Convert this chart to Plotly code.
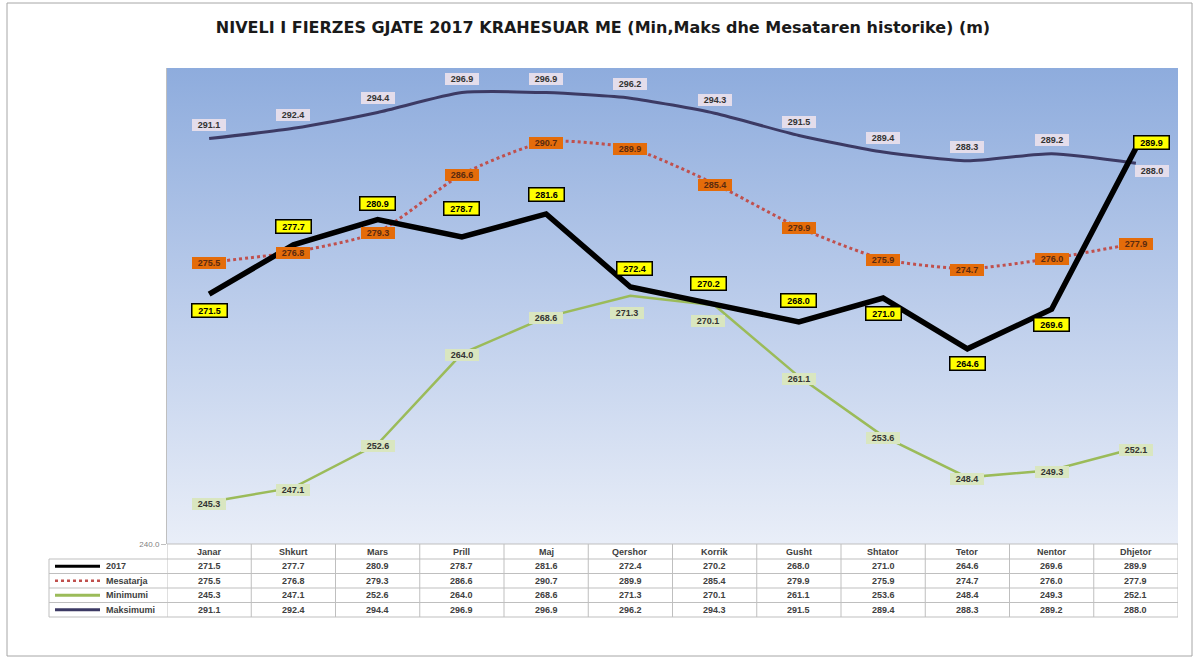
import plotly.graph_objects as go

# ---------------- data ----------------
months = ["Janar", "Shkurt", "Mars", "Prill", "Maj", "Qershor", "Korrik",
          "Gusht", "Shtator", "Tetor", "Nentor", "Dhjetor"]
y2017 = [271.5, 277.7, 280.9, 278.7, 281.6, 272.4, 270.2, 268.0, 271.0, 264.6, 269.6, 289.9]
mesatarja = [275.5, 276.8, 279.3, 286.6, 290.7, 289.9, 285.4, 279.9, 275.9, 274.7, 276.0, 277.9]
minimumi = [245.3, 247.1, 252.6, 264.0, 268.6, 271.3, 270.1, 261.1, 253.6, 248.4, 249.3, 252.1]
maksimumi = [291.1, 292.4, 294.4, 296.9, 296.9, 296.2, 294.3, 291.5, 289.4, 288.3, 289.2, 288.0]
series_names = ["2017", "Mesatarja", "Minimumi", "Maksimumi"]
title_text = "NIVELI I FIERZES GJATE 2017 KRAHESUAR ME (Min,Maks dhe Mesataren historike) (m)"

# ---------------- layout geometry (pixels) ----------------
W, H = 1195, 668
PL, PR, PT, PB = 167, 1178, 68, 544
pw, ph = PR - PL, PB - PT


def xp(px):
    return (px - PL) / pw


def yp(py):
    return (PB - py) / ph


idx = list(range(len(months)))

c2017 = "#000000"
cmean = "#C0504D"
cmin = "#9BBB59"
cmax = "#3C3A64"
FONT = "Liberation Sans, Arial"

fig = go.Figure()

# gradient plot background
fig.add_trace(go.Scatter(
    x=[-0.5, 11.5, 11.5, -0.5, -0.5], y=[240, 240, 300, 300, 240],
    fill="toself", mode="none", hoverinfo="skip", showlegend=False,
    fillgradient=dict(type="vertical",
                      colorscale=[[0, "#E9EEF8"], [0.5, "#BCCDEB"], [1, "#8EACDD"]]),
))

fig.add_trace(go.Scatter(x=idx, y=maksimumi, mode="lines", name=series_names[3],
                         line=dict(color=cmax, width=3, shape="spline", smoothing=0.6)))
fig.add_trace(go.Scatter(x=idx, y=minimumi, mode="lines", name=series_names[2],
                         line=dict(color=cmin, width=2.5)))
fig.add_trace(go.Scatter(x=idx, y=mesatarja, mode="lines", name=series_names[1],
                         line=dict(color=cmean, width=3, dash="dot", shape="spline", smoothing=0.6)))
fig.add_trace(go.Scatter(x=idx, y=y2017, mode="lines", name=series_names[0],
                         line=dict(color=c2017, width=5.5)))

annotations = []
shapes = []

# label offsets (pixels down from point), x shifts
off2017 = [16, -18, -16, -28, -19, -18, -21, -21, 15, 15, 15, -6]
xs2017 = [0, 0, 0, 0, 0, 4, -6, 0, 0, 0, 0, 16]
offmean = [1] * 12
offmin = [2, 2, 2, 1, 1, 17, 16, 2, 2, 2, 2, 2]
xsmin = [0, 0, 0, 0, 0, -3, -7, 0, 0, 0, 0, 0]
offmax = [-14, -13, -14, -14, -14, -14, -13, -13, -14, -14, -14, 8]
xsmax = [0] * 11 + [16]


def add_labels(vals, offs, xss, bg, border, bw, fc):
    for i, v in enumerate(vals):
        annotations.append(dict(
            x=i, y=v, xref="x", yref="y", text=f"<b>{v:.1f}</b>", showarrow=False,
            xanchor="center", yanchor="middle",
            yshift=-offs[i], xshift=xss[i], bgcolor=bg, bordercolor=border,
            borderwidth=bw, borderpad=1, width=32, height=10,
            font=dict(family=FONT, size=9, color=fc)))


add_labels(maksimumi, offmax, xsmax, "#E4DDEB", "rgba(0,0,0,0)", 0, "#333333")
add_labels(minimumi, offmin, xsmin, "#D9E6C0", "rgba(0,0,0,0)", 0, "#333333")
add_labels(mesatarja, offmean, [0] * 12, "#E46C0A", "rgba(0,0,0,0)", 0, "#5A2A10")
add_labels(y2017, off2017, xs2017, "#FFFF00", "#000000", 1.5, "#000000")

# ---------------- data table ----------------
grid = "#BFBFBF"
row_tops = [559, 573.5, 588, 602.5, 617]
row_centers = [(row_tops[k] + row_tops[k + 1]) / 2 for k in range(4)]

# column dividers
for k in range(13):
    shapes.append(dict(type="line", xref="x", yref="paper", x0=k - 0.5, x1=k - 0.5,
                       y0=yp(544), y1=yp(617), line=dict(color=grid, width=1)))
# horizontal lines
shapes.append(dict(type="line", xref="paper", yref="paper", x0=xp(PL), x1=xp(PR),
                   y0=yp(544), y1=yp(544), line=dict(color=grid, width=1)))
for t in row_tops:
    shapes.append(dict(type="line", xref="paper", yref="paper", x0=xp(49), x1=xp(PR),
                       y0=yp(t), y1=yp(t), line=dict(color=grid, width=1)))
shapes.append(dict(type="line", xref="paper", yref="paper", x0=xp(49), x1=xp(49),
                   y0=yp(559), y1=yp(617), line=dict(color=grid, width=1)))

# header (month names)
for i, m in enumerate(months):
    annotations.append(dict(x=i, y=yp(551.5), xref="x", yref="paper", text=f"<b>{m}</b>",
                            xanchor="center", yanchor="middle", showarrow=False,
                            font=dict(family=FONT, size=9, color="#404040")))

# legend keys + row names + values
key_styles = [(c2017, 3, "solid"), (cmean, 2.5, "dot"), (cmin, 3, "solid"), (cmax, 3, "solid")]
table_rows = [y2017, mesatarja, minimumi, maksimumi]
for r, (name, vals, (col, w, dash)) in enumerate(zip(series_names, table_rows, key_styles)):
    yc = yp(row_centers[r])
    shapes.append(dict(type="line", xref="paper", yref="paper", x0=xp(55), x1=xp(100),
                       y0=yc, y1=yc, line=dict(color=col, width=w, dash=dash)))
    annotations.append(dict(x=xp(104), y=yc, xref="paper", yref="paper", text=f"<b>{name}</b>",
                            xanchor="left", yanchor="middle", showarrow=False,
                            font=dict(family=FONT, size=9, color="#404040")))
    for i, v in enumerate(vals):
        annotations.append(dict(x=i, y=yc, xref="x", yref="paper", text=f"<b>{v:.1f}</b>",
                                xanchor="center", yanchor="middle", showarrow=False,
                                font=dict(family=FONT, size=9, color="#404040")))

# outer frame
shapes.append(dict(type="rect", xref="paper", yref="paper", x0=xp(7), x1=xp(1192),
                   y0=yp(656), y1=yp(3), line=dict(color="#A6A6A6", width=1),
                   fillcolor="rgba(0,0,0,0)", layer="below"))

fig.update_layout(
    width=W, height=H,
    margin=dict(l=PL, r=W - PR, t=PT, b=H - PB, pad=0),
    paper_bgcolor="white", plot_bgcolor="rgba(0,0,0,0)",
    showlegend=False,
    title=dict(text=f"<b>{title_text}</b>", x=xp(603), xref="paper", xanchor="center",
               y=1 - 27 / H, yref="container", yanchor="middle",
               font=dict(family="DejaVu Sans", size=16, color="#1a1a1a")),
    xaxis=dict(range=[-0.5, 11.5], tickvals=idx, ticktext=months, showticklabels=False,
               showgrid=False, zeroline=False, showline=False, fixedrange=True),
    yaxis=dict(range=[240, 300], tickvals=[240], ticktext=["240.0"], showgrid=False,
               zeroline=False, showline=True, linecolor="#BFBFBF", linewidth=1,
               ticks="outside", ticklen=5, tickcolor="#BFBFBF",
               tickfont=dict(family=FONT, size=8, color="#7F7F7F")),
    annotations=annotations, shapes=shapes,
)

fig.write_html("out.html", config={"displayModeBar": False},
               post_script="document.body.style.margin='0';")
